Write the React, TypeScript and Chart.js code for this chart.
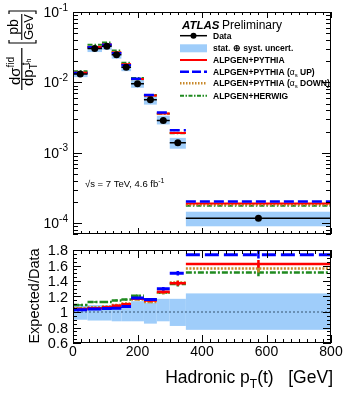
import { useEffect, useRef } from 'react';
import { Chart, registerables } from 'chart.js';

Chart.register(...registerables);

// ---- data ----
const EDGES = [0, 45, 90, 120, 150, 180, 220, 260, 300, 350, 800];
const DATA = [0.0132, 0.0303, 0.0327, 0.0247, 0.0164, 0.00953, 0.00568, 0.00287, 0.00139, 0.000117];
const UNC_UP = [0.08, 0.09, 0.09, 0.10, 0.10, 0.14, 0.12, 0.17, 0.17, 0.24];
const UNC_DOWN = [0.10, 0.11, 0.11, 0.12, 0.12, 0.12, 0.15, 0.12, 0.18, 0.23];
const RATIO_PYTHIA = [1.04, 1.05, 1.06, 1.08, 1.10, 1.17, 1.15, 1.26, 1.37, 1.62];
const RATIO_UP = [1.03, 1.04, 1.045, 1.05, 1.07, 1.18, 1.16, 1.30, 1.50, 1.74];
const RATIO_DOWN = [1.05, 1.06, 1.07, 1.09, 1.11, 1.16, 1.13, 1.25, 1.38, 1.56];
const RATIO_HERWIG = [1.09, 1.13, 1.13, 1.15, 1.16, 1.21, 1.16, 1.25, 1.36, 1.51];
const MC_ERR = [0.01, 0.01, 0.01, 0.012, 0.012, 0.015, 0.018, 0.022, 0.03, 0.05];
const X_LABELS = [0, 200, 400, 600, 800];
const TOP_DECADES = [-4, -3, -2, -1];
const RATIO_LABELS = ['0.6', '0.8', '1', '1.2', '1.4', '1.6', '1.8'];

// ---- styles ----
const FONT = '"Liberation Sans", Arial, Helvetica, sans-serif';
const BAND = '#9fcdfa';
const C_RED = '#ff0000';
const C_BLUE = '#0000ff';
const C_BROWN = '#c8882a';
const C_GREEN = '#1f8a1f';

const f = (size: number, weight = 'normal', style = 'normal') => `${style} ${weight} ${size}px ${FONT}`;

type Part = { t: string; size: number; dy?: number; weight?: string; style?: string };
function drawParts(ctx: CanvasRenderingContext2D, parts: Part[], x: number, y: number, align: 'left' | 'right' | 'center') {
  let w = 0;
  for (const p of parts) {
    ctx.font = f(p.size, p.weight, p.style);
    w += ctx.measureText(p.t).width;
  }
  let cx = align === 'left' ? x : align === 'right' ? x - w : x - w / 2;
  ctx.textAlign = 'left';
  ctx.textBaseline = 'alphabetic';
  for (const p of parts) {
    ctx.font = f(p.size, p.weight, p.style);
    ctx.fillText(p.t, cx, y + (p.dy || 0));
    cx += ctx.measureText(p.t).width;
  }
  return w;
}

function line(ctx: CanvasRenderingContext2D, x0: number, y0: number, x1: number, y1: number) {
  ctx.beginPath();
  ctx.moveTo(x0, y0);
  ctx.lineTo(x1, y1);
  ctx.stroke();
}

const centers = EDGES.slice(0, -1).map((e, i) => (e + EDGES[i + 1]) / 2);

function steps(vals: number[]) {
  const pts: { x: number; y: number | null }[] = [];
  vals.forEach((v, i) => {
    pts.push({ x: EDGES[i], y: v }, { x: EDGES[i + 1], y: v }, { x: EDGES[i + 1], y: null });
  });
  return pts;
}
function vbars(vals: number[], errs: number[]) {
  const pts: { x: number; y: number | null }[] = [];
  vals.forEach((v, i) => {
    pts.push({ x: centers[i], y: v - errs[i] }, { x: centers[i], y: v + errs[i] }, { x: centers[i], y: null });
  });
  return pts;
}

const SERIES = [
  { ratio: RATIO_UP, color: C_BLUE, dashTop: [10, 4], dashBot: [14, 5], wTop: 2.5, wBot: 3 },
  { ratio: RATIO_PYTHIA, color: C_RED, dashTop: [], dashBot: [], wTop: 2, wBot: 2.5 },
  { ratio: RATIO_DOWN, color: C_BROWN, dashTop: [2, 1.5], dashBot: [2, 1.5], wTop: 2, wBot: 2.5 },
  { ratio: RATIO_HERWIG, color: C_GREEN, dashTop: [5, 2, 1.5, 2], dashBot: [6, 2, 2, 2], wTop: 2, wBot: 2.5 },
];

const topPlugin = {
  id: 'topDeco',
  beforeDatasetsDraw(chart: any) {
    const { ctx, scales } = chart;
    const x = scales.x, y = scales.y;
    ctx.save();
    ctx.fillStyle = BAND;
    DATA.forEach((v, i) => {
      const x0 = x.getPixelForValue(EDGES[i]);
      const x1 = x.getPixelForValue(EDGES[i + 1]);
      const y0 = y.getPixelForValue(v * (1 + UNC_UP[i]));
      const y1 = y.getPixelForValue(v * (1 - UNC_DOWN[i]));
      ctx.fillRect(x0, y0, x1 - x0, y1 - y0);
    });
    ctx.restore();
  },
  afterDraw(chart: any) {
    const { ctx, chartArea, scales } = chart;
    const x = scales.x, y = scales.y;
    const { left, right, top, bottom } = chartArea;
    ctx.save();
    ctx.strokeStyle = '#000';
    ctx.fillStyle = '#000';
    ctx.lineWidth = 1;
    // frame
    ctx.strokeRect(left + 0.5, top + 0.5, right - left - 1, bottom - top - 1);
    // x ticks
    for (let v = 0; v <= 800; v += 25) {
      const px = Math.round(x.getPixelForValue(v)) + 0.5;
      const len = v % 200 === 0 ? 6 : 3;
      line(ctx, px, bottom, px, bottom - len);
      line(ctx, px, top, px, top + len);
    }
    // y ticks (log)
    for (let d = -5; d <= -1; d++) {
      for (let m = 1; m <= 9; m++) {
        const v = m * Math.pow(10, d);
        if (v < y.min * 0.999 || v > y.max * 1.001) continue;
        const py = Math.round(y.getPixelForValue(v)) + 0.5;
        const len = m === 1 ? 9 : 5;
        line(ctx, left, py, left + len, py);
        line(ctx, right, py, right - len, py);
      }
    }
    // y labels
    TOP_DECADES.forEach((d) => {
      const py = y.getPixelForValue(Math.pow(10, d));
      drawParts(ctx, [{ t: '10', size: 14 }, { t: String(d), size: 10, dy: -6.5 }], 68, py + 5, 'right');
    });
    // y title (rotated)
    ctx.save();
    ctx.translate(0, 90);
    ctx.rotate(-Math.PI / 2);
    ctx.fillRect(0, 21.2, 42, 1.2);
    drawParts(ctx, [{ t: 'dσ', size: 15 }, { t: 'fid', size: 10, dy: -6 }], 19, 19.5, 'center');
    ctx.font = f(15);
    const wdp = ctx.measureText('dp').width;
    drawParts(ctx, [{ t: 'dp', size: 15 }], 4, 33, 'left');
    drawParts(ctx, [{ t: 'T', size: 10 }], 4 + wdp, 37, 'left');
    const wt = drawParts(ctx, [{ t: 't', size: 10 }], 4 + wdp + 4, 28.5, 'left');
    drawParts(ctx, [{ t: 'h', size: 7 }], 4 + wdp + 4 + wt, 31, 'left');
    // brackets
    ctx.lineWidth = 1.2;
    ctx.beginPath();
    ctx.moveTo(50, 9); ctx.lineTo(47, 9); ctx.lineTo(47, 36); ctx.lineTo(50, 36);
    ctx.stroke();
    ctx.beginPath();
    ctx.moveTo(76, 9); ctx.lineTo(79, 9); ctx.lineTo(79, 36); ctx.lineTo(76, 36);
    ctx.stroke();
    ctx.fillRect(50, 21.2, 26, 1.1);
    drawParts(ctx, [{ t: 'pb', size: 14 }], 63, 18, 'center');
    drawParts(ctx, [{ t: 'GeV', size: 13 }], 63, 33, 'center');
    ctx.restore();

    // ATLAS label
    ctx.fillStyle = '#000';
    drawParts(ctx, [{ t: 'ATLAS', size: 11.5, weight: 'bold', style: 'italic' }], 182, 28.5, 'left');
    drawParts(ctx, [{ t: 'Preliminary', size: 12 }], 222, 28.5, 'left');

    // legend
    const LX0 = 180, LX1 = 207, TX = 213;
    const rows = [35.7, 48.3, 60, 71.7, 83.3, 95.7];
    ctx.lineWidth = 1.5;
    ctx.strokeStyle = '#000';
    line(ctx, LX0, rows[0], LX1, rows[0]);
    ctx.beginPath();
    ctx.arc((LX0 + LX1) / 2, rows[0], 3, 0, Math.PI * 2);
    ctx.fill();
    ctx.fillStyle = BAND;
    ctx.fillRect(LX0, rows[1] - 4, LX1 - LX0, 8);
    const legLines = [
      { c: C_RED, d: [] as number[], w: 2, r: rows[2] },
      { c: C_BLUE, d: [9, 3], w: 2.5, r: rows[3] },
      { c: C_BROWN, d: [1.5, 1.5], w: 2.5, r: rows[4] },
      { c: C_GREEN, d: [4, 1.5, 1.5, 1.5], w: 2, r: rows[5] },
    ];
    legLines.forEach((l) => {
      ctx.strokeStyle = l.c;
      ctx.lineWidth = l.w;
      ctx.setLineDash(l.d);
      line(ctx, LX0, l.r, LX1, l.r);
    });
    ctx.setLineDash([]);
    ctx.fillStyle = '#000';
    const B = 8.5;
    drawParts(ctx, [{ t: 'Data', size: B, weight: 'bold' }], TX, rows[0] + 3, 'left');
    drawParts(ctx, [{ t: 'stat. ⊕ syst. uncert.', size: B, weight: 'bold' }], TX, rows[1] + 3, 'left');
    drawParts(ctx, [{ t: 'ALPGEN+PYTHIA', size: B, weight: 'bold' }], TX, rows[2] + 3, 'left');
    drawParts(ctx, [
      { t: 'ALPGEN+PYTHIA (', size: B, weight: 'bold' },
      { t: 'α', size: B },
      { t: 's', size: 6, dy: 2 },
      { t: ' UP)', size: B, weight: 'bold' },
    ], TX, rows[3] + 3, 'left');
    drawParts(ctx, [
      { t: 'ALPGEN+PYTHIA (', size: B, weight: 'bold' },
      { t: 'α', size: B },
      { t: 's', size: 6, dy: 2 },
      { t: ' DOWN)', size: B, weight: 'bold' },
    ], TX, rows[4] + 3, 'left');
    drawParts(ctx, [{ t: 'ALPGEN+HERWIG', size: B, weight: 'bold' }], TX, rows[5] + 3, 'left');

    // energy / lumi
    drawParts(ctx, [{ t: '√s = 7 TeV, 4.6 fb', size: 9.5 }, { t: '-1', size: 7, dy: -4 }], 85, 186.5, 'left');
    ctx.restore();
  },
};

const botPlugin = {
  id: 'botDeco',
  beforeDatasetsDraw(chart: any) {
    const { ctx, scales } = chart;
    const x = scales.x, y = scales.y;
    ctx.save();
    ctx.fillStyle = BAND;
    DATA.forEach((_v, i) => {
      const x0 = x.getPixelForValue(EDGES[i]);
      const x1 = x.getPixelForValue(EDGES[i + 1]);
      const y0 = y.getPixelForValue(1 + UNC_UP[i]);
      const y1 = y.getPixelForValue(1 - UNC_DOWN[i]);
      ctx.fillRect(x0, y0, x1 - x0, y1 - y0);
    });
    ctx.restore();
  },
  afterDraw(chart: any) {
    const { ctx, chartArea, scales } = chart;
    const x = scales.x, y = scales.y;
    const { left, right, top, bottom } = chartArea;
    ctx.save();
    ctx.strokeStyle = '#000';
    ctx.fillStyle = '#000';
    ctx.lineWidth = 1;
    ctx.strokeRect(left + 0.5, top + 0.5, right - left - 1, bottom - top - 1);
    for (let v = 0; v <= 800; v += 25) {
      const px = Math.round(x.getPixelForValue(v)) + 0.5;
      const len = v % 200 === 0 ? 8 : 4;
      line(ctx, px, bottom, px, bottom - len);
      line(ctx, px, top, px, top + len);
    }
    for (let i = 0; i <= 24; i++) {
      const v = 0.6 + i * 0.05;
      const py = Math.round(y.getPixelForValue(v)) + 0.5;
      const len = i % 4 === 0 ? 8 : 4;
      line(ctx, left, py, left + len, py);
      line(ctx, right, py, right - len, py);
    }
    RATIO_LABELS.forEach((s) => {
      const py = y.getPixelForValue(parseFloat(s));
      drawParts(ctx, [{ t: s, size: 14.5 }], 68, py + 5.2, 'right');
    });
    X_LABELS.forEach((v) => {
      const px = x.getPixelForValue(v);
      drawParts(ctx, [{ t: String(v), size: 14 }], px, 115.5, 'center');
    });
    // x title
    drawParts(ctx, [
      { t: 'Hadronic p', size: 17.5 },
      { t: 'T', size: 12, dy: 5 },
      { t: '(t)   [GeV]', size: 17.5 },
    ], 333, 143, 'right');
    // y title
    ctx.save();
    ctx.translate(38.5, 56);
    ctx.rotate(-Math.PI / 2);
    ctx.font = f(14.5);
    ctx.textAlign = 'center';
    ctx.textBaseline = 'alphabetic';
    ctx.fillText('Expected/Data', 0, 0);
    ctx.restore();
    ctx.restore();
  },
};

export default function App() {
  const topRef = useRef<HTMLCanvasElement>(null);
  const botRef = useRef<HTMLCanvasElement>(null);

  useEffect(() => {
    const topDatasets: any[] = [
      {
        data: centers.map((c, i) => ({ x: c, y: DATA[i] })),
        showLine: false,
        pointRadius: 3.5,
        pointBackgroundColor: '#000',
        pointBorderWidth: 0,
      },
      {
        data: steps(DATA),
        borderColor: '#000',
        borderWidth: 1.5,
        pointRadius: 0,
      },
      ...SERIES.map((s) => ({
        data: steps(s.ratio.map((r, i) => r * DATA[i])),
        borderColor: s.color,
        borderWidth: s.wTop,
        borderDash: s.dashTop,
        pointRadius: 0,
      })),
    ];
    const c1 = new Chart(topRef.current!, {
      type: 'line',
      data: { datasets: topDatasets },
      options: {
        responsive: false,
        animation: false,
        events: [],
        layout: { padding: { left: 73, right: 18, top: 12, bottom: 6 } },
        plugins: { legend: { display: false }, tooltip: { enabled: false } },
        scales: {
          x: { type: 'linear', min: 0, max: 800, display: false },
          y: { type: 'logarithmic', min: 7.46e-5, max: 0.1, display: false },
        },
      } as any,
      plugins: [topPlugin],
    });

    const botDatasets: any[] = [];
    SERIES.forEach((s) => {
      botDatasets.push({
        data: steps(s.ratio),
        borderColor: s.color,
        borderWidth: s.wBot,
        borderDash: s.dashBot,
        pointRadius: 0,
      });
      botDatasets.push({
        data: vbars(s.ratio, MC_ERR),
        borderColor: s.color,
        borderWidth: 2.5,
        pointRadius: 0,
      });
    });
    botDatasets.push({
      data: [{ x: 0, y: 1 }, { x: 800, y: 1 }],
      borderColor: '#4f6f8f',
      borderWidth: 1.3,
      borderDash: [2, 2],
      pointRadius: 0,
    });
    const c2 = new Chart(botRef.current!, {
      type: 'line',
      data: { datasets: botDatasets },
      options: {
        responsive: false,
        animation: false,
        events: [],
        layout: { padding: { left: 73, right: 18, top: 10, bottom: 51 } },
        plugins: { legend: { display: false }, tooltip: { enabled: false } },
        scales: {
          x: { type: 'linear', min: 0, max: 800, display: false },
          y: { type: 'linear', min: 0.6, max: 1.8, display: false },
        },
      } as any,
      plugins: [botPlugin],
    });
    return () => {
      c1.destroy();
      c2.destroy();
    };
  }, []);

  return (
    <div style={{ position: 'absolute', left: 0, top: 0, width: 349, height: 394, background: '#fff' }}>
      <canvas ref={topRef} width={349} height={240} style={{ position: 'absolute', left: 0, top: 0 }} />
      <canvas ref={botRef} width={349} height={154} style={{ position: 'absolute', left: 0, top: 240 }} />
    </div>
  );
}
